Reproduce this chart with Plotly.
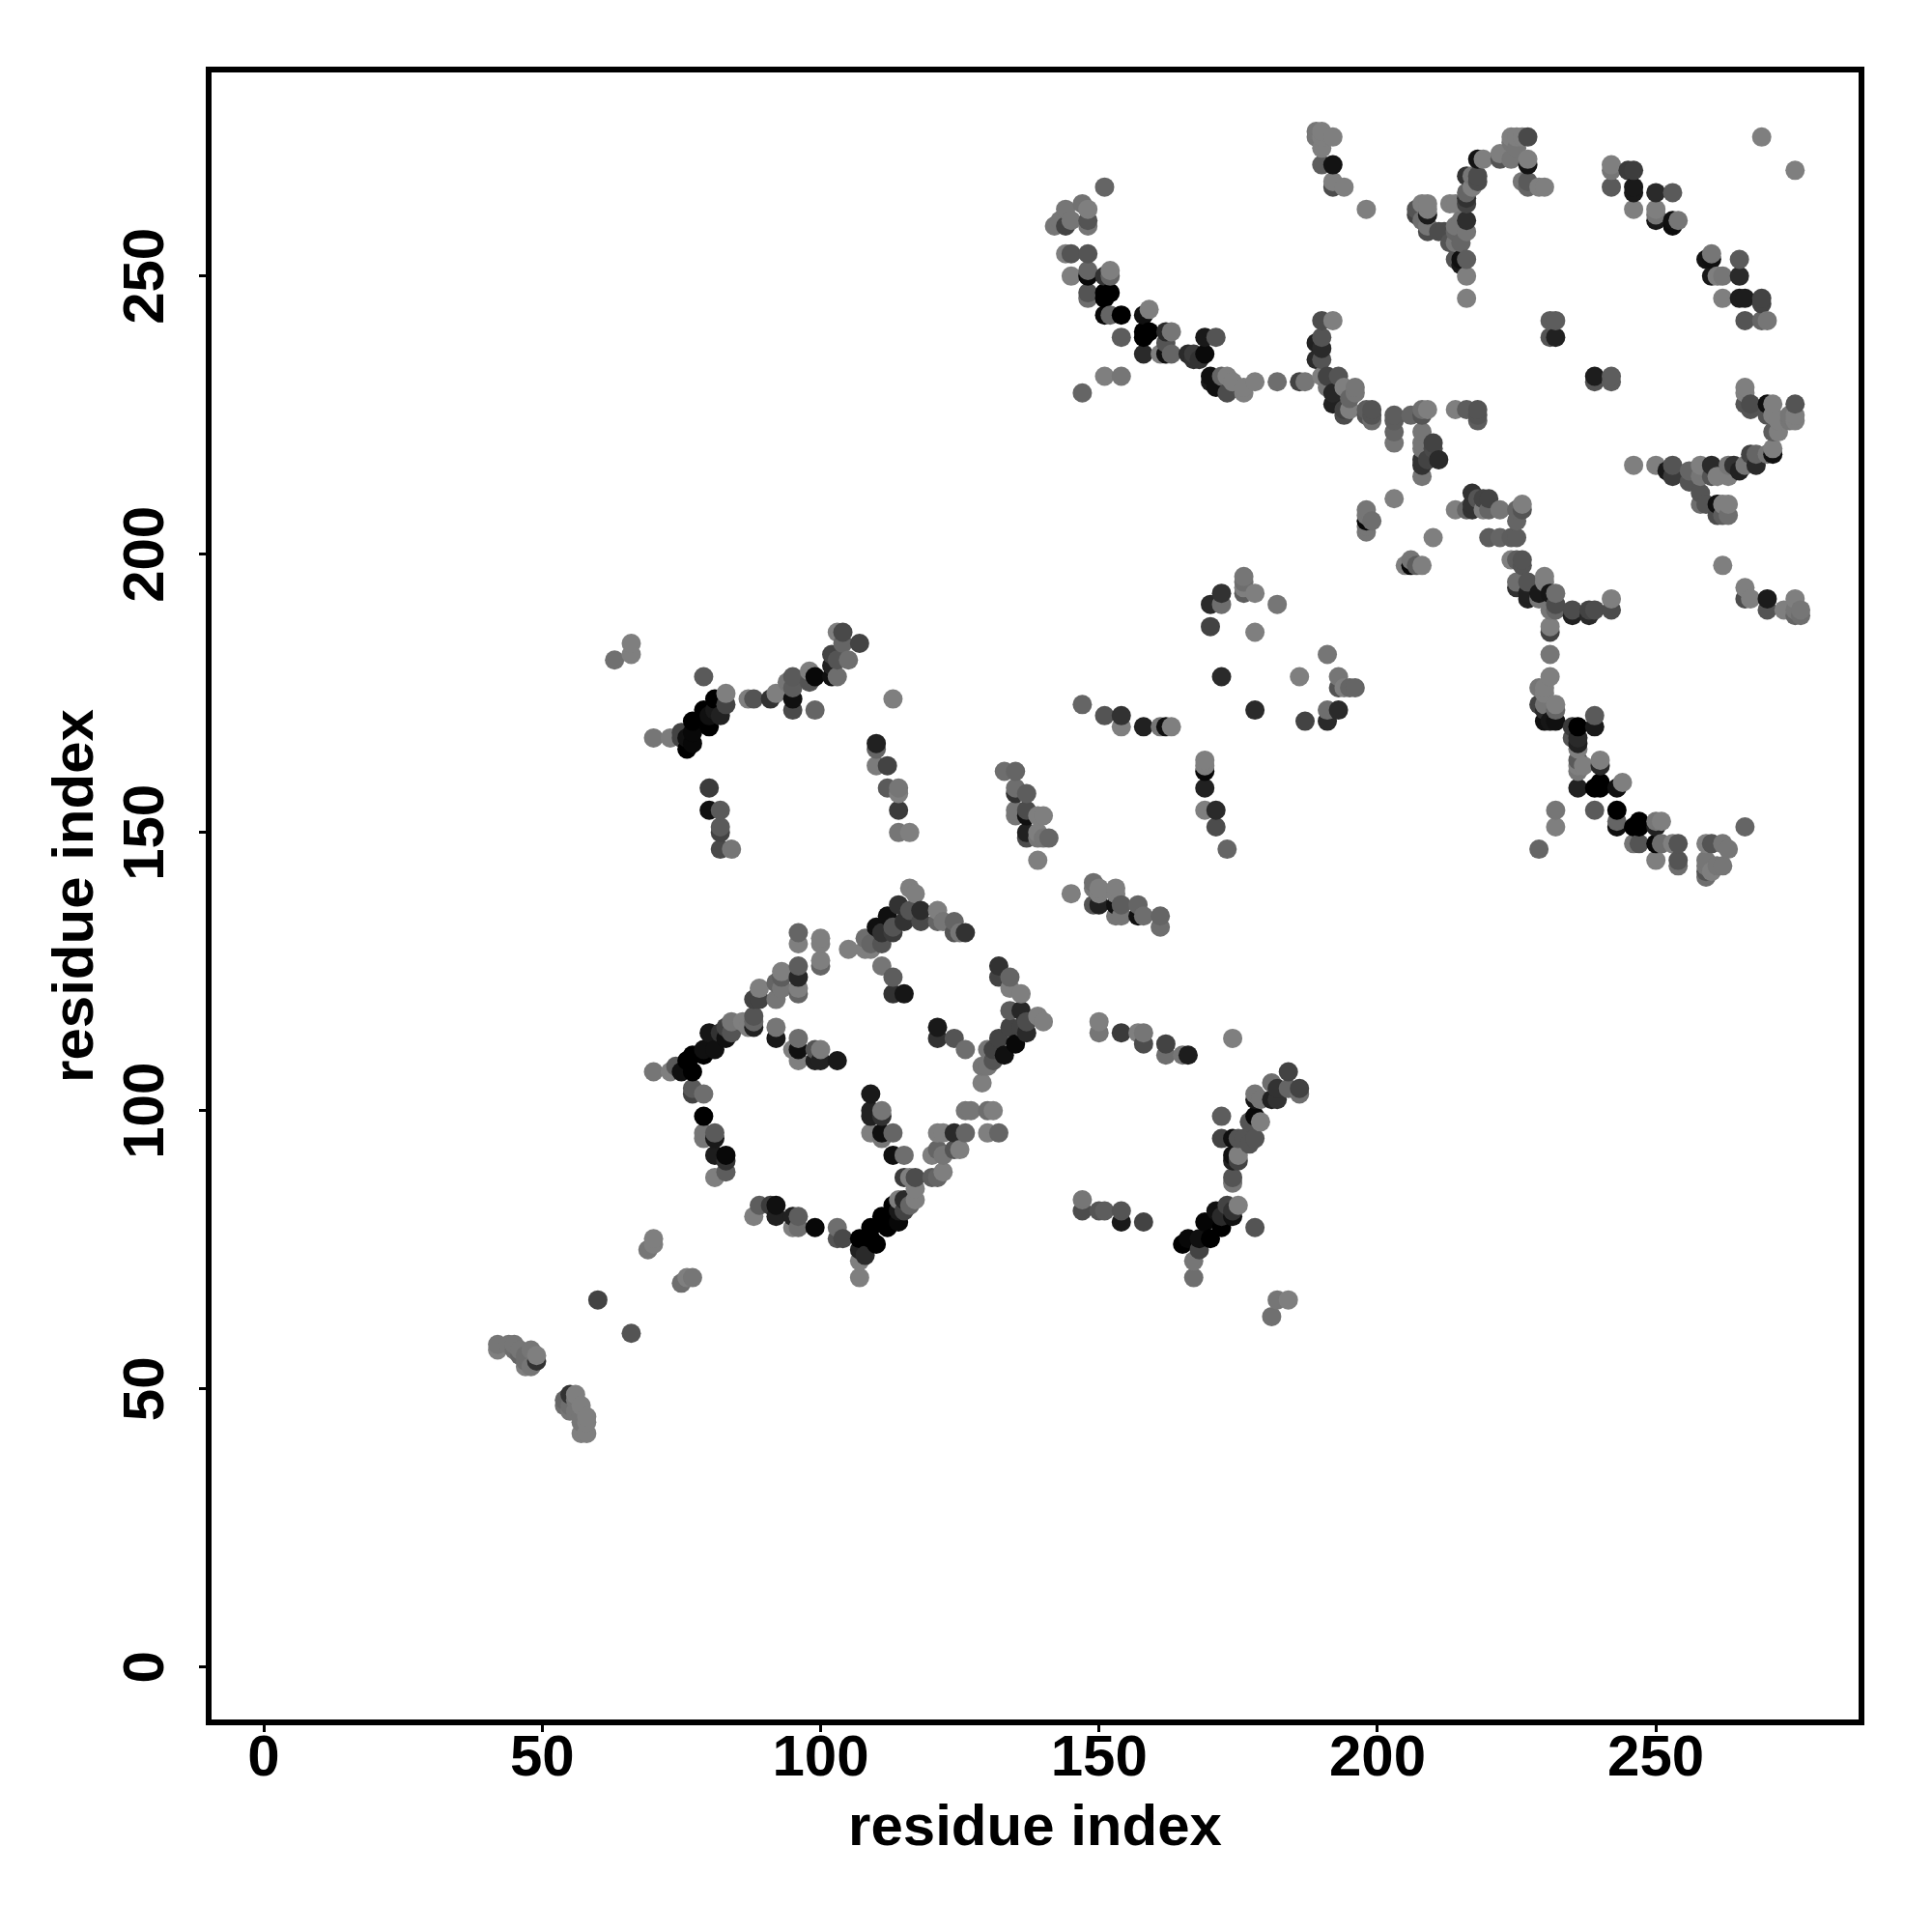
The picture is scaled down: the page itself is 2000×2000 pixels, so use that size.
import pandas as pd
import plotly.graph_objects as go

# Residue contacts: x index, y index, grey level (0-255)
low_x = [42,42,44,45,45,46,46,47,47,47,48,48,49,49,54,54,55,55,55,56,56,56,57,57,57,57,58,58,58,60,66]
low_y = [58,57,58,58,57,57,56,56,55,54,54,57,56,55,48,47,49,47,46,49,48,46,47,45,44,42,45,44,42,66,60]
low_g = [112,120,112,112,104,112,96,104,104,120,112,112,120,48,96,104,48,104,112,120,112,112,120,112,112,120,120,120,120,64,80]

ula_x = [63,66,66,79,70,73,75,75,76,76,77,77,77,79,80,80,81,81,82,83,83,87,88,91,92,95,95,95,95,94,99,98,98,99,102,103,102,102,103,105,104,103,104,107]
ula_y = [181,184,182,178,167,167,168,167,167,165,166,168,170,172,169,171,174,172,171,175,173,174,174,174,175,172,174,176,178,177,172,179,177,178,178,178,182,180,181,181,186,186,184,184]
ula_g = [106,120,120,85,112,117,64,64,16,0,8,8,0,0,0,16,0,24,32,120,64,120,80,48,120,69,16,88,85,112,96,120,80,8,16,104,64,32,80,104,69,120,96,64]

ulb_x = [110,110,110,112,113,112,114,114,114,114,116,80,80,82,82,82,82,84]
ulb_y = [166,165,162,162,174,158,158,157,154,150,150,158,154,154,151,150,147,147]
ulb_g = [32,96,117,64,120,85,112,120,56,112,120,56,16,85,85,64,69,112]

arc1_x = [70,73,74,75,77,76,77,79,79,81,80,82,83,83,84,84,86,88,88,88,87,88,89,89,92,93,93,93,92,96,96,96,96,96,96,100,100,100,100]
arc1_y = [107,107,108,107,107,109,110,110,111,111,114,114,113,115,116,114,116,115,116,117,115,120,122,120,123,125,124,122,120,126,124,122,121,132,130,131,130,127,126]
arc1_g = [112,120,85,16,0,0,0,0,16,16,21,48,16,64,112,80,120,32,96,80,120,64,120,64,96,120,88,112,112,88,37,120,96,96,120,120,120,120,96]

inner_x = [92,92,96,95,96,96,99,100,99,100,103,77,77,79,79,79,79,81,81,81,83,83,83,81]
inner_y = [115,113,113,111,111,109,109,109,111,111,109,103,104,103,99,96,95,96,95,92,92,91,89,88]
inner_g = [112,24,104,120,16,120,32,32,80,117,24,64,85,104,0,112,112,85,24,28,8,48,88,120]

arc2_x = [88,89,91,92,92,95,96,95,96,99,103,103,104,107,107,108,107,107,109,110,109,111,112,112,113,114,115,114,115,116,117,114]
arc2_y = [81,83,83,83,81,81,81,79,79,79,79,77,77,70,73,74,75,77,79,76,77,81,79,81,83,80,82,82,84,83,84,84]
arc2_g = [120,88,56,16,32,32,88,120,104,8,104,80,69,120,120,40,32,0,0,0,0,0,0,0,0,8,64,24,40,96,120,120]

arc3_x = [115,116,117,117,120,121,122,120,121,122,124,125,121,122,124,126,126,127,130,131,130,132,109,109,109,111,111,109,111,113,111,113,115]
arc3_y = [88,88,88,86,88,88,89,92,93,92,93,93,96,96,96,96,100,100,100,100,96,96,103,100,99,100,99,96,96,96,95,92,92]
arc3_g = [56,120,72,120,88,96,120,120,96,112,80,120,120,120,40,96,112,112,104,120,120,96,24,32,32,112,48,120,16,96,112,16,104]

cross_x = [121,121,124,126,111,113,113,115,105,108,109,108,109,111,110,111,112,113,114,115,113,116,117,116,118,118,121,121,122,124,124,125,126]
cross_y = [115,113,113,111,126,124,121,121,129,129,130,131,129,130,133,132,135,132,137,134,133,140,139,136,136,134,136,134,134,134,132,132,132]
cross_g = [24,48,80,104,112,88,48,21,120,120,96,104,120,80,16,48,16,56,48,48,80,120,120,80,42,69,120,96,112,96,80,112,48]

diag_x = [132,132,134,134,136,134,136,134,136,137,137,139,140,135,132,133,131,130,131,129,130,129,70,70,69,75,76,77]
diag_y = [126,124,124,122,121,118,118,115,115,114,116,117,116,112,113,110,111,111,109,108,108,105,77,76,75,69,70,70]
diag_g = [48,64,96,120,120,88,37,64,64,40,72,120,120,8,64,16,64,112,80,112,112,120,120,120,112,104,120,112]

mid_x = [150,150,154,157,158,158,162,162,165,166,174,147,147,150,151,154,154,158,167,167,165,166,168,168,169,170,171,172,172,173,174,174,175,178]
mid_y = [116,114,114,114,114,112,112,110,110,110,113,84,82,82,82,82,80,80,70,73,76,77,75,77,80,77,82,79,81,83,81,82,83,79]
mid_g = [120,112,56,120,112,72,64,104,112,28,120,112,72,80,88,80,24,64,104,112,0,8,64,16,5,0,16,0,40,64,16,48,120,80]

fork_x = [174,174,174,175,174,175,172,174,175,176,177,178,172,177,178,179,178,178,179,181,182,181,182,184,184,186,186,182,184,181]
fork_y = [88,87,91,91,92,92,95,95,95,95,94,95,99,98,99,98,102,103,102,102,102,105,104,107,104,104,103,66,66,63]
fork_g = [80,112,32,64,16,120,64,16,80,80,80,80,88,80,8,120,21,112,112,32,48,104,48,64,96,64,104,112,120,106]

cen_x = [170,172,172,176,176,176,176,178,182,170,178,191,172,186,193,193,194,195,196,178,191,193,187,191]
cen_y = [191,191,193,196,195,193,194,193,191,187,186,182,178,178,178,176,176,176,176,172,172,172,170,170]
cen_g = [40,104,48,112,104,88,120,120,112,64,120,112,40,120,112,80,120,96,96,40,104,40,64,40]

cenb_x = [147,151,154,154,158,161,162,163,169,169,169,169,169,171,171,173]
cenb_y = [173,171,171,169,169,169,169,169,163,162,161,158,154,154,151,147]
cenb_g = [96,80,48,120,32,112,16,120,120,120,8,32,120,40,72,96]

hel_x = [133,135,135,135,137,135,135,137,137,139,140,137,137,139,139,140,141,139,145,149,149,150,150,153,153,149,150,154,153,153,154,157,157,158,161,161]
hel_y = [161,161,158,157,157,154,153,154,153,153,153,150,149,150,149,149,149,145,139,141,140,140,139,140,139,137,137,137,137,135,135,137,135,135,135,133]
hel_g = [104,96,104,48,88,112,112,72,16,120,120,32,72,120,112,112,96,120,120,104,112,120,120,120,120,80,32,88,16,112,112,96,16,104,96,104]

ua_x = [151,142,144,144,143,145,147,148,148,148,144,145,148,148,148,145,151,152,152,148,148,151,152,151,151,152,154,154,158,159,158,159,158,158]
ua_y = [266,259,262,259,260,260,263,262,260,259,254,254,254,251,250,250,250,251,250,247,246,247,247,246,243,243,243,239,243,244,240,240,239,236]
ua_g = [96,112,112,64,112,112,108,120,80,112,120,80,80,96,8,120,48,120,96,80,104,0,0,0,8,96,0,88,16,120,0,0,0,40]

ub_x = [162,163,162,161,162,163,166,167,167,169,171,169,168,170,170,171,172,173,173,174,176,176,178,182,186,187,151,154,147]
ub_y = [240,240,238,236,236,236,236,236,235,239,239,236,235,232,231,230,232,232,229,231,229,230,231,231,231,231,232,232,229]
ub_g = [40,112,80,120,16,96,40,56,48,24,80,10,48,16,24,16,96,120,72,120,120,120,120,104,64,112,120,112,96]

uc_x = [190,192,190,189,190,189,190,190,191,193,191,192,194,196,196,195,192,194,194,195,198,199,198,199,199]
uc_y = [242,242,239,238,237,235,235,232,232,232,230,229,230,230,229,228,227,226,225,226,226,226,225,225,224]
uc_g = [72,120,80,32,40,40,80,120,64,80,112,37,120,112,112,96,32,64,72,120,88,80,80,80,104]

ud_x = [203,203,203,203,206,208,209,208,208,208,208,208,208,208,210,210,209,211,214,216,218,218,218,203,198]
ud_y = [225,224,222,220,225,225,226,226,222,220,219,217,216,214,220,219,217,217,226,226,226,225,224,210,208]
ud_g = [88,88,96,112,96,80,120,104,112,112,112,48,48,112,64,69,64,40,120,88,80,80,88,120,112]

top_x = [189,190,189,190,192,190,190,192,192,192,194,198]
top_y = [276,276,275,275,275,273,270,270,267,266,266,262]
top_g = [112,120,112,120,120,120,88,18,120,72,120,120]

ue_x = [207,207,208,209,209,209,208,209,209,211,212,213,214,214,214,213,214,215,214,215,216,215,216,216]
ue_y = [262,261,263,263,262,261,260,259,258,258,258,263,263,259,258,256,256,256,253,253,253,252,250,246]
ue_g = [80,64,120,120,120,26,104,112,72,72,72,120,120,112,96,80,112,96,80,16,88,24,120,120]

uf_x = [216,216,215,216,216,216,216,217,218,218,218,219,217,222,222,224,224,225,226,227,225,224,227,227,226,227,227,229,230]
uf_y = [260,258,260,263,264,265,268,268,267,268,271,271,266,272,271,275,274,275,275,275,273,271,271,270,267,267,266,266,266]
uf_g = [44,112,112,64,48,96,48,112,72,72,18,120,120,120,80,120,112,120,120,69,112,112,120,18,112,85,96,120,120]

ug_x = [242,242,242,245,246,246,246,246,250,253,250,250,250,253,253,254,259,260,260,260,261,262,265,265,262,265,266,269,269,266,269,270,269,275]
ug_y = [270,269,266,269,269,266,265,262,265,265,262,261,260,259,260,260,253,254,253,250,250,250,253,250,246,246,246,246,245,242,242,242,275,269]
ug_g = [120,112,85,56,58,24,24,120,40,85,120,112,24,12,16,112,18,112,16,24,120,112,85,40,120,28,28,64,64,80,96,112,120,120]

uh_x = [231,232,231,232,239,239,242,242,266,266,266,267,267,270,271,271,270,272,271,275,274,275,275,274,272]
uh_y = [242,242,239,239,232,231,232,231,230,229,227,227,226,227,227,225,225,222,222,227,225,225,224,224,224]
uh_g = [88,88,80,32,28,80,88,88,120,120,80,72,80,16,120,120,80,120,88,80,112,120,120,112,120]

hor_x = [246,250,252,253,253,256,256,258,258,260,260,261,263,263,264,265,266,267,268,268,270,271,271,258,258,261,259,263,261,262,263,262]
hor_y = [216,216,215,216,214,215,213,216,214,216,214,214,216,214,216,215,216,218,218,216,218,218,219,211,209,209,209,209,207,207,207,209]
hor_g = [120,120,24,80,56,96,80,120,112,40,80,120,112,120,48,32,112,64,96,40,112,16,120,80,104,16,80,120,72,88,104,120]

mc_x = [198,198,198,199,198,210,214,216,217,217,217,218,219,220,219,220,222,225,226,226,225,220,222,224,225]
mc_y = [206,205,207,206,204,203,208,208,211,209,208,210,210,210,208,208,208,208,209,208,206,203,203,203,203]
mc_g = [8,112,112,104,112,120,120,96,48,48,48,80,64,64,120,96,112,96,120,80,96,88,96,88,88]

md_x = [206,205,206,207,208,224,225,226,226,225,225,227,227,227,230,230,229,229,231,232,232,231,232]
md_y = [199,198,198,198,198,199,199,199,198,195,194,195,193,192,196,195,193,192,193,193,191,190,190]
md_g = [112,120,8,88,120,120,88,80,80,104,48,80,32,32,120,120,24,112,21,104,72,112,96]

me_x = [235,235,238,238,239,242,242,231,231,231,231,229,230,230,229,230,230,232,232,230,232,231]
me_y = [190,189,190,189,190,192,190,187,186,182,178,176,176,175,173,173,172,173,172,170,170,170]
me_g = [72,32,64,40,72,120,72,120,64,112,120,112,120,120,64,112,40,120,96,16,16,21]

mf_x = [235,236,239,239,235,236,236,236,236,236,236,237,240,240,236,239,240,240,243,244,232,232,239,243,243,243]
mf_y = [169,169,171,169,167,167,166,165,163,162,161,162,163,162,158,158,159,158,158,159,154,151,154,154,152,151]
mf_g = [56,0,85,24,80,40,32,120,85,120,112,120,120,40,32,0,0,0,16,120,112,120,85,0,96,16]

mg_x = [246,247,247,250,251,250,246,247,250,251,253,254,250,254,254,229,266,259,260,262,263,259,259,259,260,261,262,259]
mg_y = [151,152,151,152,152,151,148,148,148,148,148,148,145,145,144,147,151,148,148,148,147,145,144,142,143,144,144,143]
mg_g = [0,0,0,112,120,32,112,80,8,104,120,80,120,80,104,96,96,120,80,112,112,112,112,104,120,112,112,80]

rt_x = [262,266,266,267,270,270,273,275,275,276,275,276]
rt_y = [198,194,192,192,192,190,190,192,190,190,189,189]
rt_g = [120,120,72,120,26,80,120,120,112,112,96,104]

tick_vals = [0, 50, 100, 150, 200, 250]
axis_title = "residue index"

regions = [
    (low_x, low_y, low_g), (ula_x, ula_y, ula_g), (ulb_x, ulb_y, ulb_g), (arc1_x, arc1_y, arc1_g),
    (inner_x, inner_y, inner_g), (arc2_x, arc2_y, arc2_g), (arc3_x, arc3_y, arc3_g), (cross_x, cross_y, cross_g),
    (diag_x, diag_y, diag_g), (mid_x, mid_y, mid_g), (fork_x, fork_y, fork_g), (cen_x, cen_y, cen_g),
    (cenb_x, cenb_y, cenb_g), (hel_x, hel_y, hel_g), (ua_x, ua_y, ua_g), (ub_x, ub_y, ub_g),
    (uc_x, uc_y, uc_g), (ud_x, ud_y, ud_g), (top_x, top_y, top_g), (ue_x, ue_y, ue_g),
    (uf_x, uf_y, uf_g), (ug_x, ug_y, ug_g), (uh_x, uh_y, uh_g), (hor_x, hor_y, hor_g),
    (mc_x, mc_y, mc_g), (md_x, md_y, md_g), (me_x, me_y, me_g), (mf_x, mf_y, mf_g),
    (mg_x, mg_y, mg_g), (rt_x, rt_y, rt_g),
]
rows = []
for rx, ry, rg in regions:
    rows.extend(zip(rx, ry, rg, strict=True))
df = pd.DataFrame(rows, columns=["x", "y", "g"]).sort_values(["x", "y"], kind="stable")

fig = go.Figure(go.Scatter(
    x=df["x"], y=df["y"], mode="markers", cliponaxis=False,
    marker=dict(size=20, color=[f"rgb({int(g * 1.06)},{int(g * 1.06)},{int(g * 1.06)})" for g in df["g"]],
                line=dict(width=0)),
    hoverinfo="skip",
))
FONT = "Liberation Sans"
axis_common = dict(
    showgrid=False, zeroline=False, showline=True, mirror=True, linecolor="black", linewidth=6,
    ticks="outside", ticklen=7, tickwidth=3, tickcolor="black",
    tickmode="array", tickvals=tick_vals,
    tickfont=dict(family=FONT, size=60, color="black", weight="bold"),
)
fig.update_xaxes(**axis_common, range=[-9.37, 286.4], ticklabelstandoff=-27,
                 title=dict(text=axis_title, standoff=20,
                            font=dict(family=FONT, size=60, color="black", weight="bold")))
fig.update_yaxes(**axis_common, range=[-9.41, 286.6], tickangle=-90, ticklabelstandoff=13,
                 ticklabelshift=9,
                 title=dict(text=axis_title, standoff=1,
                            font=dict(family=FONT, size=60, color="black", weight="bold")))
fig.update_layout(width=2000, height=2000, autosize=False, showlegend=False,
                  margin=dict(l=211, r=84, t=67, b=228, pad=0, autoexpand=False),
                  paper_bgcolor="white", plot_bgcolor="white")
fig.write_html("out.html")
